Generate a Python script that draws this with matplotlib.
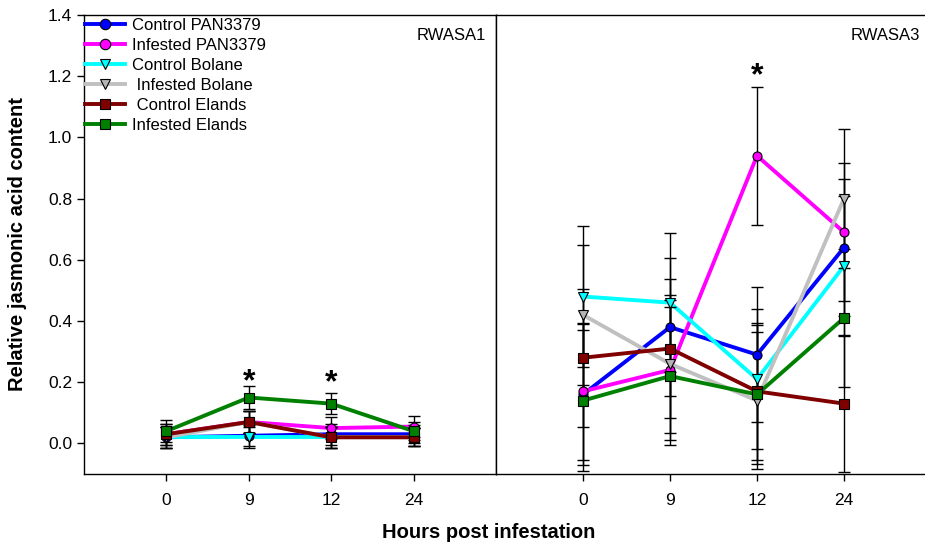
import matplotlib
matplotlib.use("Agg")
import matplotlib.pyplot as plt
from matplotlib.lines import Line2D

plt.rcParams['font.family'] = ['Liberation Sans', 'DejaVu Sans']

hours = ['0', '9', '12', '24']
series = ['Control PAN3379', 'Infested PAN3379', 'Control Bolane',
          ' Infested Bolane', ' Control Elands', 'Infested Elands']

# RWASA1 means and errors
rwasa1 = {
    'Control PAN3379':  [0.02, 0.025, 0.03, 0.03],
    'Infested PAN3379': [0.03, 0.07, 0.05, 0.055],
    'Control Bolane':   [0.02, 0.02, 0.02, 0.02],
    ' Infested Bolane': [0.02, 0.07, 0.02, 0.02],
    ' Control Elands':  [0.03, 0.07, 0.02, 0.02],
    'Infested Elands':  [0.04, 0.15, 0.13, 0.04],
}
rwasa1_err = {
    'Control PAN3379':  [0.035, 0.035, 0.035, 0.03],
    'Infested PAN3379': [0.035, 0.035, 0.035, 0.035],
    'Control Bolane':   [0.035, 0.034, 0.035, 0.03],
    ' Infested Bolane': [0.035, 0.035, 0.035, 0.03],
    ' Control Elands':  [0.035, 0.035, 0.035, 0.03],
    'Infested Elands':  [0.035, 0.036, 0.035, 0.03],
}
# RWASA3 means and errors
rwasa3 = {
    'Control PAN3379':  [0.16, 0.38, 0.29, 0.64],
    'Infested PAN3379': [0.17, 0.24, 0.94, 0.69],
    'Control Bolane':   [0.48, 0.46, 0.21, 0.58],
    ' Infested Bolane': [0.42, 0.26, 0.14, 0.80],
    ' Control Elands':  [0.28, 0.31, 0.17, 0.13],
    'Infested Elands':  [0.14, 0.22, 0.16, 0.41],
}
rwasa3_err = {
    'Control PAN3379':  [0.23, 0.225, 0.22, 0.225],
    'Infested PAN3379': [0.225, 0.23, 0.225, 0.225],
    'Control Bolane':   [0.23, 0.227, 0.228, 0.23],
    ' Infested Bolane': [0.228, 0.226, 0.225, 0.228],
    ' Control Elands':  [0.226, 0.227, 0.225, 0.225],
    'Infested Elands':  [0.23, 0.226, 0.228, 0.225],
}

colors = ['#0000ff', '#ff00ff', '#00ffff', '#c0c0c0', '#800000', '#008000']
markers = ['o', 'o', 'v', 'v', 's', 's']
mfaces = ['#0000ff', '#ff00ff', '#00ffff', '#b4b4b4', '#800000', '#008000']

fig = plt.figure(figsize=(9.25, 5.46), dpi=100)
ax1 = fig.add_axes([84/925, 72/546, 412/925, 459/546])
ax2 = fig.add_axes([496/925, 72/546, 435/925, 459/546])

xpos = [1, 2, 3, 4]
for ax, data, err in [(ax1, rwasa1, rwasa1_err), (ax2, rwasa3, rwasa3_err)]:
    for i, s in enumerate(series):
        ax.plot(xpos, data[s], color=colors[i], lw=2.8, zorder=2 + i * 0.01)
        ax.errorbar(xpos, data[s], yerr=err[s], fmt='none', ecolor='black',
                    elinewidth=1, capsize=4, capthick=1, zorder=3)
        ax.plot(xpos, data[s], ls='none', marker=markers[i], ms=6.5, mfc=mfaces[i],
                mec='black', mew=0.8, zorder=4 + i * 0.01)
    ax.set_xlim(0, 5)
    ax.set_ylim(-0.1, 1.4)
    ax.set_xticks(xpos)
    ax.set_xticklabels(hours)
    ax.tick_params(axis='both', labelsize=12.5, direction='out', length=5, width=1)
    ax.tick_params(axis='x', pad=8.5)
    for sp in ax.spines.values():
        sp.set_linewidth(1)

ax1.set_yticks([0.0, 0.2, 0.4, 0.6, 0.8, 1.0, 1.2, 1.4])
ax1.set_yticklabels(['0.0', '0.2', '0.4', '0.6', '0.8', '1.0', '1.2', '1.4'])
ax2.set_yticks([])

ax1.text(0.975, 0.955, 'RWASA1', transform=ax1.transAxes, ha='right', va='center', fontsize=12)
ax2.text(0.975, 0.955, 'RWASA3', transform=ax2.transAxes, ha='right', va='center', fontsize=12)

ax1.text(2, 0.20, '*', ha='center', va='center', fontsize=23, fontweight='bold')
ax1.text(3, 0.195, '*', ha='center', va='center', fontsize=23, fontweight='bold')
ax2.text(3, 1.20, '*', ha='center', va='center', fontsize=23, fontweight='bold')

handles = [Line2D([], [], color=colors[i], lw=2.8, marker=markers[i], ms=7.5,
                  mfc=mfaces[i], mec='black', mew=0.8) for i in range(len(series))]
ax1.legend(handles, series, loc='upper left', bbox_to_anchor=(-0.01, 1.005), frameon=False,
           fontsize=12, handlelength=2.4, handletextpad=0.45, labelspacing=0.3,
           borderaxespad=0.2, borderpad=0.1)

fig.text(489/925, 1 - 533/546, 'Hours post infestation', ha='center', va='center',
         fontsize=14.5, fontweight='bold')
fig.text(18/925, 1 - 244/546, 'Relative jasmonic acid content', ha='center', va='center',
         rotation=90, fontsize=14.5, fontweight='bold')

fig.savefig('out.png', dpi=100)
